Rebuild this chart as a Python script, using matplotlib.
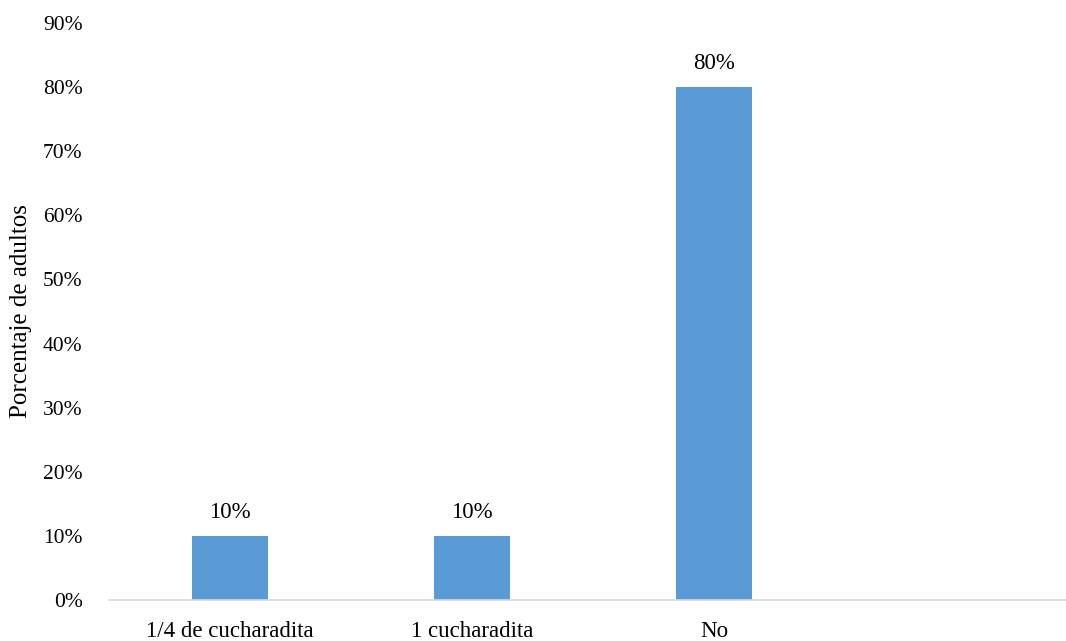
import matplotlib.pyplot as plt
import numpy as np

categorias = ['1/4 de cucharadita', '1 cucharadita', 'No', '']
valores = [0.10, 0.10, 0.80, np.nan]
yticks = [0, 0.1, 0.2, 0.3, 0.4, 0.5, 0.6, 0.7, 0.8, 0.9]

plt.rcParams['font.family'] = ['Liberation Serif', 'DejaVu Serif']

fig = plt.figure(figsize=(10.66, 6.41), dpi=100)
ax = fig.add_axes([109/1066, 1 - 600/641, 1 - 109/1066, (600 - 23)/641])

x = np.arange(len(categorias))
bars = ax.bar(x, valores, width=0.314, color='#5b9bd5')

for xi, v in zip(x, valores):
    if not np.isnan(v):
        ax.text(xi, v + 0.02, f'{v*100:.0f}%', ha='center', va='bottom', fontsize=16.5)

ax.set_xlim(-0.5, 3.455)
ax.set_ylim(0, 0.9)
ax.set_yticks(yticks)
ax.set_yticklabels([f'{t*100:.0f}%' for t in yticks], fontsize=15.5)
ax.set_xticks(x)
ax.set_xticklabels(categorias, fontsize=16.5)
ax.tick_params(axis='x', length=0, pad=15)
ax.tick_params(axis='y', length=0, pad=19)

for s in ['top', 'right', 'left']:
    ax.spines[s].set_visible(False)
ax.spines['bottom'].set_color('#d9d9d9')
ax.spines['bottom'].set_linewidth(1.2)

ax.set_ylabel('Porcentaje de adultos', fontsize=18)
ax.yaxis.set_label_coords(-77 / (1066 - 109), 0.5)

fig.savefig('out.png', dpi=100)
